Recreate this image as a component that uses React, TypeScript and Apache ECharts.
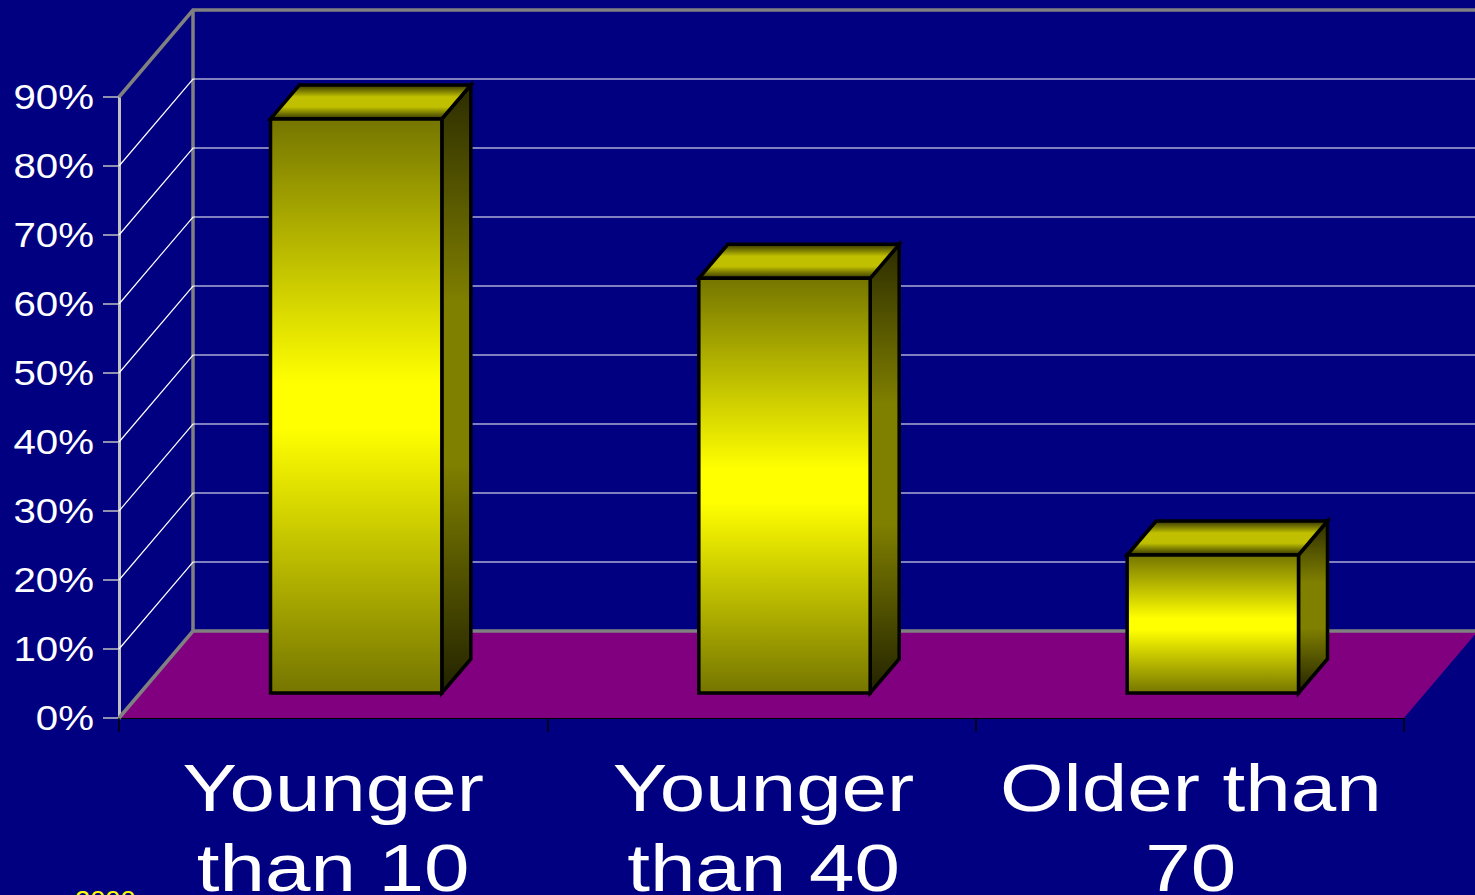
import React, { useEffect, useRef } from "react";
import * as echarts from "echarts";

const categories = ["Younger\nthan 10", "Younger\nthan 40", "Older than\n70"];
const percentValues = [83.2, 60.1, 20];
const yTicks = [0, 10, 20, 30, 40, 50, 60, 70, 80, 90];
const footnote = "2000";

const DX = 74;
const DY = -87;
const BAR_DX = 23;
const BAR_DY = -25;
const BAR_DEPTH_X = 29;
const BAR_DEPTH_Y = -34;
const FONT = "Liberation Sans";

const vGrad = (stops: [number, string][]) => ({
  type: "linear", x: 0, y: 0, x2: 0, y2: 1,
  colorStops: stops.map(([offset, color]) => ({ offset, color })),
});
const frontFill = vGrad([[0, "#757500"], [0.46, "#ffff00"], [0.54, "#ffff00"], [1, "#757500"]]);
const sideFill = vGrad([[0, "#2c2c00"], [0.36, "#808000"], [0.62, "#808000"], [1, "#222200"]]);
const topFill = vGrad([[0, "#333300"], [0.35, "#c0c000"], [0.65, "#c0c000"], [1, "#333300"]]);

export default function App() {
  const ref = useRef<HTMLDivElement>(null);
  useEffect(() => {
    const chart = echarts.init(ref.current!, undefined, { renderer: "svg" });
    chart.setOption({
      animation: false,
      backgroundColor: "#000080",
      grid: { left: 119, top: 97, width: 1285, height: 621, containLabel: false },
      xAxis: {
        type: "category",
        data: categories,
        axisLine: { show: true, lineStyle: { color: "#000000", width: 2 } },
        axisTick: { show: true, length: 14, lineStyle: { color: "#000000", width: 1.5 } },
        axisLabel: { show: false },
        splitLine: { show: false },
      },
      yAxis: {
        type: "value",
        min: 0,
        max: 90,
        interval: 10,
        axisLine: { show: true, lineStyle: { color: "#c0c0c0", width: 3 } },
        axisTick: { show: true, length: 16, lineStyle: { color: "#c0c0c0", width: 1.5 } },
        axisLabel: { show: false },
        splitLine: { show: false },
      },
      series: [
        {
          // Floor and the frame of the walls
          type: "custom",
          silent: true,
          z: 1,
          data: [[0, 0]],
          encode: { x: 0, y: 1 },
          renderItem: (params: any, api: any) => {
            const c = params.coordSys;
            const x0 = c.x, x1 = c.x + c.width, yb = c.y + c.height, yt = c.y;
            const frame = { stroke: "#808080", lineWidth: 3.5, fill: "none" };
            return {
              type: "group",
              children: [
                {
                  type: "polygon",
                  shape: { points: [[x0, yb], [x1, yb], [x1 + DX, yb + DY], [x0 + DX, yb + DY]] },
                  style: { fill: "#800080" },
                },
                {
                  type: "polyline",
                  shape: { points: [[x0, yb], [x0 + DX, yb + DY], [x1 + DX, yb + DY]] },
                  style: frame,
                },
                {
                  type: "polyline",
                  shape: { points: [[x0, yt], [x0 + DX, yt + DY], [x1 + DX, yt + DY]] },
                  style: frame,
                },
                {
                  type: "line",
                  shape: { x1: x0 + DX, y1: yb + DY, x2: x0 + DX, y2: yt + DY },
                  style: frame,
                },
              ],
            };
          },
        },
        {
          // Gridlines on the side and back walls
          type: "custom",
          silent: true,
          z: 2,
          data: yTicks.slice(1, -1).map((v) => [0, v]),
          encode: { x: 0, y: 1 },
          renderItem: (params: any, api: any) => {
            const c = params.coordSys;
            const y = api.coord([0, api.value(1)])[1];
            const x0 = c.x, x1 = c.x + c.width;
            return {
              type: "polyline",
              shape: { points: [[x0, y], [x0 + DX, y + DY], [x1 + DX, y + DY]] },
              style: { stroke: "#ffffff", lineWidth: 1.2, fill: "none" },
            };
          },
        },
        {
          // The 3D bars
          type: "custom",
          silent: true,
          z: 3,
          data: percentValues.map((v, i) => [i, v]),
          encode: { x: 0, y: 1 },
          renderItem: (params: any, api: any) => {
            const i = api.value(0);
            const [cx, yTop0] = api.coord([i, api.value(1)]);
            const yBase0 = api.coord([i, 0])[1];
            const w = api.size([1, 0])[0] * 0.4;
            const l = cx + BAR_DX - w / 2, r = l + w;
            const t = yTop0 + BAR_DY, b = yBase0 + BAR_DY;
            const edge = { stroke: "#000000", lineWidth: 3.5, lineJoin: "miter" };
            return {
              type: "group",
              children: [
                {
                  type: "polygon",
                  shape: { points: [[r, t], [r + BAR_DEPTH_X, t + BAR_DEPTH_Y], [r + BAR_DEPTH_X, b + BAR_DEPTH_Y], [r, b]] },
                  style: { ...edge, fill: sideFill },
                },
                {
                  type: "polygon",
                  shape: { points: [[l, t], [l + BAR_DEPTH_X, t + BAR_DEPTH_Y], [r + BAR_DEPTH_X, t + BAR_DEPTH_Y], [r, t]] },
                  style: { ...edge, fill: topFill },
                },
                {
                  type: "polygon",
                  shape: { points: [[l, t], [r, t], [r, b], [l, b]] },
                  style: { ...edge, fill: frontFill },
                },
              ],
            };
          },
        },
        {
          // Y tick labels: wide-set text, as in the source slide
          type: "custom",
          silent: true,
          z: 4,
          data: yTicks.map((v) => [0, v]),
          encode: { x: 0, y: 1 },
          renderItem: (params: any, api: any) => {
            const v = api.value(1);
            const y = api.coord([0, v])[1];
            return {
              type: "text",
              x: 94,
              y: y,
              scaleX: 1.15,
              style: {
                text: `${v}%`,
                x: 0, y: 0,
                align: "right",
                verticalAlign: "middle",
                fill: "#ffffff",
                font: `35px "${FONT}"`,
              },
            };
          },
        },
        {
          // Category labels
          type: "custom",
          silent: true,
          z: 4,
          data: categories.map((_, i) => [i, 0]),
          encode: { x: 0, y: 1 },
          renderItem: (params: any, api: any) => {
            const i = api.value(0);
            const cx = api.coord([i, 0])[0];
            return {
              type: "group",
              children: categories[i].split("\n").map((line, k) => ({
                type: "text",
                x: cx + (i === 1 ? 2 : i === 2 ? 1 : 0),
                y: 788 + k * 80,
                scaleX: 1.22,
                style: {
                  text: line,
                  x: 0, y: 0,
                  align: "center",
                  verticalAlign: "middle",
                  fill: "#ffffff",
                  font: `67px "${FONT}"`,
                },
              })),
            };
          },
        },
      ],
      graphic: [
        {
          type: "text",
          x: 75,
          y: 887,
          scaleX: 1.05,
          style: { text: footnote, fill: "#ffff00", font: `26px "${FONT}"`, verticalAlign: "top", align: "left" },
        },
      ],
    });
    return () => chart.dispose();
  }, []);
  return <div ref={ref} style={{ position: "fixed", left: 0, top: 0, width: 1475, height: 895 }} />;
}
